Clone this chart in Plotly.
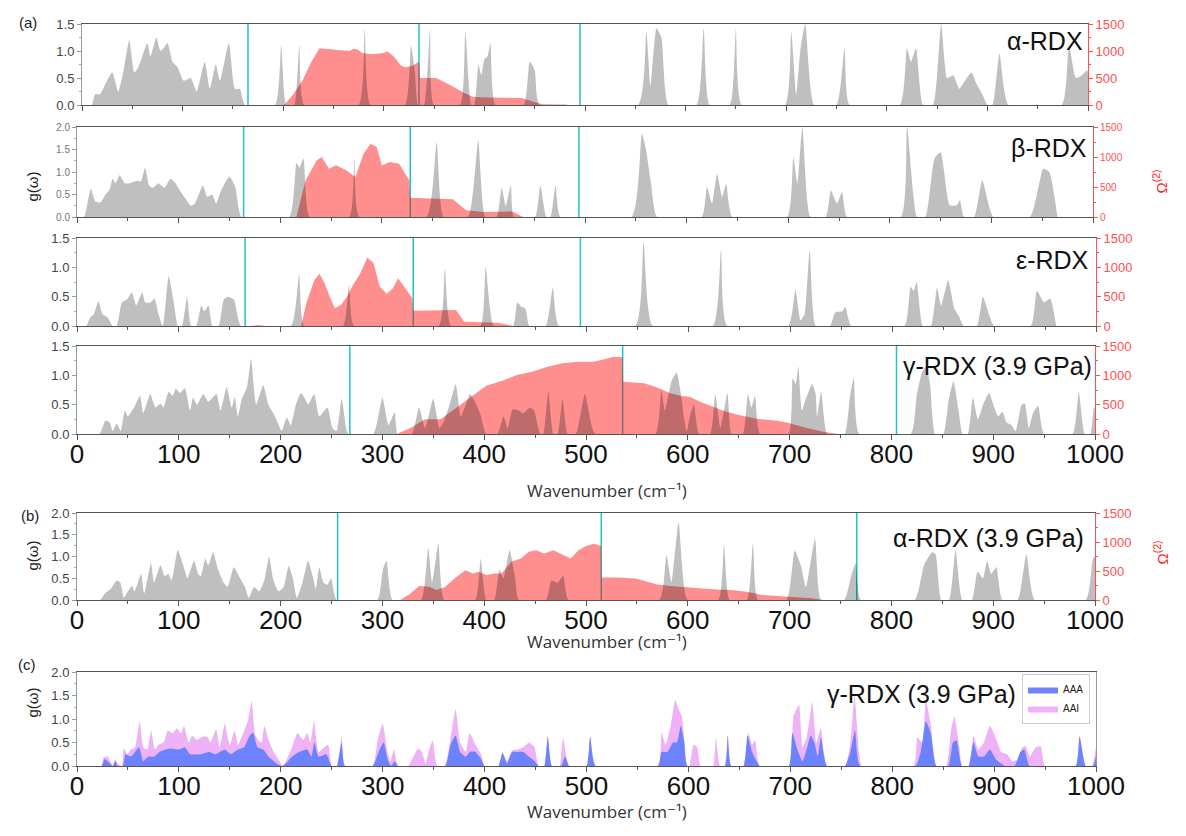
import plotly.graph_objects as go

# ---------------- data (wavenumber cm-1, value) ----------------
ALPHA_G = [[0,0],[9.5,0],[13,0.2],[18,0.2],[21,0.3],[30,0.6],[36,0.25],[41,0.6],[47,1.2],[52,0.6],[56,0.7],[65,1.15],[68,0.9],[74,1.25],[78,1.0],[81,1.05],[85,1.15],[90,0.8],[95,0.7],[101,0.45],[108,0.5],[114,0.25],[122,0.8],[127,0.3],[133,0.75],[137,0.45],[146,1.15],[152,0.3],[157,0.3],[162,0],[192,0],[198,1.1],[203,0],[211,0],[216,1.1],[221,0],[275,0],[281,1.4],[287,0],[321,0],[327,1.1],[331,0.6],[334,0],[340,0],[346,1.4],[350,0],[376,0],[381,1.35],[387,0],[390,0],[394,0.75],[397,0.55],[400,0.85],[403,0.9],[406,1.15],[411,0],[439,0],[445,0.8],[450,0.65],[455,0],[553,0],[561,1.35],[565,0.35],[571,1.42],[576,1.25],[583,0],[611,0],[618,1.42],[624,0],[644,0],[650,1.4],[656,0],[699,0],[705,1.35],[710,0.2],[714,1.0],[719,1.5],[728,0],[750,0],[758,1.05],[763,0],[813,0],[820,1.05],[824,0.8],[829,1.05],[836,0],[846,0],[854,1.5],[860,0.5],[866,0.55],[872,0.3],[876,0.4],[884,0.6],[889,0.4],[895,0.2],[900,0],[905,0],[912,0.95],[921,0],[974,0],[981,1.1],[988,0.5],[994,0.55],[999,0.65],[1000,0.6]]
ALPHA_OM = [[201,0],[210,200],[219,450],[228,800],[236,1050],[253,1020],[260,1020],[266,1000],[270,1040],[274,1030],[279,960],[289,940],[298,960],[304,990],[310,900],[317,730],[321,700],[328,720],[335,800],[336,500],[352,500],[366,370],[379,230],[389,150],[405,140],[437,130],[449,60],[458,15],[481,10],[483,0]]

BETA_G = [[0,0],[7,0],[13.5,0.63],[18,0.35],[23,0.32],[28,0.5],[32,0.6],[35,0.85],[38,0.75],[42,0.93],[47,0.75],[52,0.75],[58,0.8],[63,0.8],[67,1.1],[71,0.7],[75,0.65],[80,0.75],[86,0.65],[92,0.85],[97,0.75],[101,0.6],[107,0.4],[112,0.25],[116,0.3],[124,0.7],[128,0.45],[133,0.5],[137,0.3],[142,0.6],[150,0.9],[156,0.65],[159,0.2],[162,0],[209,0],[216,1.2],[219,1.1],[223,1.3],[229,0],[268,0],[273,1.3],[278,0],[344,0],[354,1.65],[361,0],[385,0],[390,0.6],[395,1.7],[402,0],[413,0],[418,0.65],[422,0.25],[427,0.7],[430,0],[451,0],[456,0.7],[462,0],[466,0],[471,0.7],[476,0],[546,0],[556,1.85],[560,1.5],[565,0.75],[571,0],[615,0],[620,0.67],[625,0.3],[630,0.96],[635,0.45],[639,0.74],[645,0],[699,0],[705,1.33],[709,0.75],[714,2.0],[722,0],[737,0],[742,0.59],[748,0.3],[753,0.55],[758,0],[811,0],[817,2.0],[827,0],[835,0],[844,1.3],[850,1.44],[859,0.26],[866,0.26],[869,0.37],[873,0],[883,0],[891,0.81],[902,0],[938,0],[951,1.07],[957,1.0],[965,0]]
BETA_OM = [[216,0],[225,611],[236,944],[241,1000],[248,806],[255,861],[265,778],[274,667],[282,1055],[289,1222],[295,1167],[300,861],[308,917],[317,889],[327,611],[328,322],[370,294],[383,111],[400,83],[428,94],[439,0]]

EPS_G = [[0,0],[9,0],[13,0.15],[16.5,0.2],[21,0.42],[25,0.2],[30,0.15],[35,0],[39,0],[44,0.4],[49,0.45],[54,0.57],[58,0.35],[64,0.57],[67,0.4],[72,0.4],[76,0.47],[80,0.2],[84,0],[85,0.05],[90,0.85],[95,0.4],[99,0],[103,0],[108,0.5],[112,0],[117,0],[122,0.35],[125,0.25],[129,0.35],[133,0],[139,0],[144,0.45],[148,0.5],[154,0.45],[161,0],[210,0],[218,0.87],[223,0],[261,0],[267,0.7],[272,0],[355,0],[361,0.97],[367,0],[396,0],[401,1.0],[409,0],[428,0],[432,0.4],[436,0.33],[440,0.3],[444,0],[460,0],[467,0.65],[473,0],[548,0],[556,1.43],[565,0],[624,0],[632,1.3],[638,0],[698,0],[705,0.62],[710,0.1],[714,0.2],[719,1.3],[725,0],[739,0],[744,0.23],[751,0.25],[754,0.33],[760,0],[812,0],[818,0.67],[821,0.6],[824,0.75],[830,0],[838,0],[844,0.65],[848,0.35],[855,0.78],[861,0.3],[866,0.15],[870,0],[883,0],[889,0.5],[895,0.2],[900,0],[936,0],[942,0.6],[949,0.4],[955,0.47],[961,0]]
EPS_OM = [[170,0],[178,15],[186,0],[220,0],[225,388],[233,787],[238,890],[243,730],[248,502],[253,302],[259,359],[265,502],[270,673],[278,901],[285,1169],[291,1072],[297,673],[304,548],[310,644],[315,815],[321,673],[329,473],[330,262],[372,274],[380,74],[413,57],[428,0]]

GAMMA_G = [[0,0],[22,0],[28,0.23],[32,0.2],[35,0.05],[39,0.18],[43,0.05],[47,0.4],[50,0.3],[56,0.45],[62,0.65],[65,0.35],[72,0.68],[77,0.45],[82,0.52],[85,0.45],[90,0.72],[94,0.65],[97,0.77],[101,0.7],[106,0.78],[111,0.4],[114,0.62],[118,0.5],[124,0.68],[129,0.55],[137,0.68],[141,0.4],[147,0.8],[152,0.45],[155,0.63],[158,0.3],[162,0.6],[167,0.8],[171,1.28],[176,0.5],[183,0.83],[188,0.5],[193,0.35],[197,0.2],[201,0.05],[206,0.28],[210,0.15],[215,0.5],[220,0.7],[224,0.6],[227,0.5],[233,0.68],[238,0.3],[246,0.45],[251,0.1],[255,0.05],[260,0.6],[265,0.05],[267,0],[291,0],[300,0.62],[306,0.15],[312,0.37],[315,0],[329,0],[336,0.45],[342,0.1],[350,0.6],[356,0.1],[360,0.2],[366,0.5],[372,0.85],[377,0.3],[381,0.45],[386,0.68],[391,0.55],[396,0.35],[402,0],[413,0],[419,0.3],[423,0.1],[428,0.42],[434,0.4],[438,0.35],[445,0.45],[449,0.4],[455,0],[458,0],[463,0.72],[468,0],[472,0],[477,0.6],[482,0],[490,0],[499,0.68],[509,0],[568,0],[574,0.75],[577.5,0.4],[584,0.9],[589,1.05],[594,0.6],[596,0.3],[599,0.05],[602,0.3],[606,0.5],[611,0],[622,0],[627,0.68],[632,0.1],[639,0.7],[643,0],[654,0],[659,0.68],[662.5,0.45],[666,0.65],[671,0],[699,0],[703,0.95],[706,0.85],[708.6,1.15],[712,0.4],[716,0.6],[722,0.85],[725.5,0.7],[727,0.3],[731,0.72],[737,0],[754,0],[759,0.6],[763,0.95],[768.5,0],[819,0],[825,0.68],[830,1.05],[834,1.15],[838,0.85],[843,0],[851,0],[856.5,0.6],[861,0.9],[866,0.4],[870,0],[875,0],[880,0.62],[885,0.25],[890,0.5],[896,0.7],[901,0.45],[905,0.3],[909,0.38],[913,0.2],[918,0.15],[922,0.05],[928,0.5],[931,0.52],[935,0.1],[939,0.35],[944,0.48],[950,0],[978,0],[984,0.72],[990,0],[995.5,0],[999,0.45],[1000,0.45]]
GAMMA_OM = [[314,0],[327,97],[342,250],[357,250],[372,437],[387,636],[402,824],[417,903],[432,1006],[447,1062],[462,1148],[477,1205],[492,1233],[507,1233],[515,1261],[527,1318],[536,1307],[536.5,892],[557,864],[568,807],[583,693],[594,648],[602,636],[612,551],[624,466],[635,398],[650,324],[669,256],[688,227],[698,193],[718,97],[733,40],[748,0]]

ALPHA39_G = [[0,0],[22.6,0],[27.5,0.15],[33,0.25],[39,0.45],[42.5,0.4],[46,0.05],[50,0.2],[54,0.33],[56.5,0.2],[63,0.6],[66,0.15],[72.7,0.85],[75.7,0.4],[82,0.8],[86,0.55],[89.6,0.6],[93,0.45],[99,1.15],[105,0.75],[108.5,0.5],[115,0.9],[119,0.6],[121.7,0.55],[126,0.95],[129,0.8],[133.7,1.1],[138.6,0.7],[144,0.4],[148,0.3],[154,0.75],[159,0.55],[165,0.3],[168.7,0.05],[174,0.3],[179,0.2],[184,0.45],[188.7,1.0],[193,0.45],[198,0.2],[203,0.3],[208,0.78],[212,0.5],[216,0.05],[221.5,0.4],[227,0.9],[232,0.5],[234.6,0.25],[238,0.75],[242,0.4],[246,0.35],[249.7,0.5],[255,0],[295,0],[300.5,0.7],[304,0.9],[310,0],[338,0],[345,1.2],[348.8,0.4],[355,1.3],[360.8,0],[391,0],[396.6,0.95],[402,0],[409.8,0],[415,0.7],[419,0.5],[424.9,1.15],[430.5,0.5],[434,0],[460.6,0],[466,0.45],[472,0.4],[477.6,0.55],[483,0],[572,0],[579,1.03],[584,0.4],[591,1.78],[600,0],[630,0],[635.6,1.27],[641,0],[658,0],[664,1.3],[669,0],[697,0],[705,1.13],[711,0.8],[716,0.3],[725,1.41],[731,0],[753.6,0],[761,0.6],[765,0.85],[770,0],[822.8,0],[832,0.8],[840,1.1],[843.4,1.05],[849,0],[856.6,0],[863,1.15],[869.7,0],[879,0],[884.6,0.65],[890,0.5],[894,0.9],[898,0.6],[903,0.75],[909,0],[924,0],[932.6,1.05],[940.8,0],[991,0],[998,0.95],[1000,1.0]]
ALPHA39_OM = [[317.5,0],[327,103],[336,240],[346,229],[353,172],[361,218],[372,389],[381.5,515],[389,458],[394.7,487],[402,429],[410,458],[417,458],[426.7,658],[436,716],[443.7,830],[451,859],[459,802],[468,859],[477.6,773],[485,716],[492.6,859],[500,930],[508,968],[515,930],[515.5,389],[531,389],[549,372],[561,315],[570,269],[583,240],[598,218],[613,200],[628,183],[643,172],[658,143],[673,86],[688,69],[707,57],[722,29],[733,0]]

# panel (c): cumulative AAA+AAI top, and AAA
GAMMA_TOTAL = [[0,0],[24,0],[26,0.18],[30,0.2],[32.6,0.1],[35,0],[37.5,0.15],[40,0.05],[44,0],[45.8,0.38],[49.5,0.25],[53,0.35],[57,0.4],[61.5,0.95],[65,0.4],[69,0.35],[72.8,0.75],[76.5,0.35],[80,0.45],[85,0.5],[89,0.75],[93.8,0.7],[98,0.8],[102,0.7],[105,0.85],[109.6,0.5],[113,0.65],[117.8,0.55],[122.7,0.62],[128,0.62],[131,0.5],[136.6,0.78],[140,0.4],[145,0.9],[150,0.45],[154.6,0.75],[158,0.45],[164,0.75],[167.7,0.95],[171.5,1.38],[175,0.65],[181,0.5],[184,0.85],[188,0.55],[193,0.3],[197.7,0.15],[201.5,0],[205,0.1],[211,0.4],[216.5,0.7],[222,0.55],[226,0.7],[229,0.5],[232.6,0.95],[237,0.3],[242.8,0.4],[246.5,0.45],[250,0],[255,0],[259.7,0.62],[263,0],[290,0],[295,0.55],[300,0.9],[304.7,0.3],[307.7,0.1],[311,0.35],[315,0],[325,0],[329,0.15],[334.7,0.37],[338.5,0.3],[342,0.05],[345,0.3],[349,0.55],[353.5,0],[361,0],[366.6,0.6],[371.5,1.2],[376,0.5],[381.6,0.3],[385.4,0.7],[391,0.45],[396.6,0.25],[400,0],[413.5,0],[417.6,0.28],[422,0.1],[427,0.33],[432,0.35],[438,0.4],[443.5,0.5],[449,0.4],[453,0],[458.5,0],[462,0.62],[466,0],[473.5,0],[477,0.6],[483,0],[500,0],[503.6,0.62],[509,0],[570,0],[573.8,0.7],[577.5,0.45],[583,0.9],[587,1.4],[590.6,1.2],[593.6,1.05],[599,0],[601,0],[605,0.45],[608.6,0.4],[612,0],[624,0],[627,0.6],[631,0],[635.6,0],[638.6,0.65],[642,0],[654,0],[659,0.7],[662.5,0.45],[665.5,0.55],[670,0],[698.5,0],[703,1.05],[706,1.2],[708.6,1.3],[712,0.4],[716,0.6],[721.7,1.35],[725.5,0.5],[730,0.8],[736,0],[753.6,0],[759,0.5],[763,1.5],[767.4,0.3],[770,0],[821,0],[824.7,0.6],[829.6,0.5],[833,1.4],[837.8,0.9],[843.4,0],[852.8,0],[858,0.8],[861,1.05],[866,0.4],[868.5,0],[875,0],[879.8,0.65],[884.6,0.35],[890,0.5],[896,0.85],[900.7,0.65],[907,0.3],[912.7,0.25],[918,0.1],[924,0.15],[927.7,0.4],[931,0.42],[935,0.2],[940.8,0.4],[945.7,0.42],[950,0],[980,0],[983.9,0.65],[989.9,0],[996,0],[1000,0.4]]
GAMMA_AAA = [[0,0],[24,0],[27,0.15],[32.6,0.05],[35,0],[37.5,0.1],[40,0],[45,0],[47.6,0.25],[53,0.2],[60.8,0.4],[65,0.1],[70,0.2],[75.8,0.2],[81,0.3],[90.8,0.37],[100,0.35],[105.8,0.4],[111,0.25],[120.8,0.25],[130,0.3],[135.8,0.25],[145,0.35],[151,0.25],[158,0.35],[164,0.4],[169.6,0.65],[173,0.7],[177,0.4],[182.7,0.35],[188,0.2],[195.9,0.05],[201.5,0],[205,0.05],[211,0.2],[218,0.3],[226,0.35],[230,0.2],[233,0.5],[237,0.2],[244.6,0.25],[250,0],[255,0],[259.7,0.5],[263,0],[290,0],[297,0.35],[301,0.5],[304.7,0.15],[308,0],[312,0.1],[315,0],[361,0],[366.6,0.45],[371.5,0.65],[376,0.3],[381.6,0.2],[385.4,0.3],[391,0.3],[396.6,0.15],[400,0],[413.5,0],[417.6,0.28],[422,0.05],[427,0.3],[432,0.3],[438,0.3],[443.5,0.2],[449,0.1],[453,0],[458.5,0],[462,0.62],[466,0],[475,0],[479,0.2],[483,0],[500,0],[503.6,0.62],[509,0],[570,0],[573.8,0.3],[579.4,0.3],[585,0.5],[588.8,0.5],[592.5,0.85],[596,0.5],[599,0],[635.6,0],[638.6,0.65],[642,0],[654,0],[658,0.65],[662.5,0.3],[667,0.1],[670,0],[698.5,0],[702,0.7],[707,0.35],[712,0.1],[716,0.35],[720,0.65],[723.6,0.5],[727,0.2],[730,0.6],[736,0],[753.6,0],[759,0.3],[763.6,0.75],[768.5,0],[822.8,0],[828.5,0.35],[833,0.95],[837.8,0.7],[843.4,0],[855,0],[859.6,0.5],[863,0.55],[868.5,0],[875,0],[879.8,0.5],[884.6,0.2],[890,0.2],[896,0.35],[901.5,0.15],[907,0.05],[910.8,0],[920,0],[925.8,0.3],[929.6,0.35],[935,0],[980,0],[983.9,0.62],[989.9,0],[997,0],[1000,0.2]]

# vertical cyan marker lines (cm-1)
VLINES = {
    "alpha": [165, 335, 495],
    "beta": [164, 328, 494],
    "eps": [165, 330, 494],
    "gamma": [268, 536, 805],
    "alpha39": [256, 515, 766],
}
PHASE_LABELS = ["α-RDX", "β-RDX", "ε-RDX", "γ-RDX (3.9 GPa)", "α-RDX (3.9 GPa)", "γ-RDX (3.9 GPa)"]
OM_TICKS = [0, 500, 1000, 1500]

# ---------------- layout geometry (pixels of a 1186x836 canvas) ----------------
W, H = 1186, 836
def px(x): return x / W
def py(y): return 1 - y / H
def aid(prefix, n): return prefix if n == 1 else f"{prefix}{n}"

panels = [
    dict(key="alpha", g=ALPHA_G, om=ALPHA_OM, xr=(82, 1088), yr=(24, 105), gmax=1.5, small=False, xl=False, lab=(1085, 41)),
    dict(key="beta", g=BETA_G, om=BETA_OM, xr=(77, 1093), yr=(127, 217), gmax=2.0, small=True, xl=False, lab=(1089, 148)),
    dict(key="eps", g=EPS_G, om=EPS_OM, xr=(77, 1096), yr=(238, 326), gmax=1.5, small=False, xl=False, lab=(1091, 260)),
    dict(key="gamma", g=GAMMA_G, om=GAMMA_OM, xr=(77, 1095), yr=(346, 434), gmax=1.5, small=False, xl=True, lab=(1094, 366)),
    dict(key="alpha39", g=ALPHA39_G, om=ALPHA39_OM, xr=(77, 1095), yr=(513, 600), gmax=2.0, small=False, xl=True, lab=(1086, 538)),
]

GRAY = "rgba(0,0,0,0.25)"
RED = "rgba(255,0,0,0.44)"
RED_AX = "#ff5050"
CYAN = "#1fc3c8"
AX = "#555555"
SMOOTH = dict(shape="spline", smoothing=0.5)
LABEL_FONT = dict(size=25, color="#111")

fig = go.Figure()
layout = dict(width=W, height=H, margin=dict(l=0, r=0, t=0, b=0, autoexpand=False),
              paper_bgcolor="white", plot_bgcolor="white", showlegend=True,
              font=dict(family="Liberation Sans, Arial, sans-serif"))
shapes, annotations = [], []

def xaxis_def(p, anchor):
    return dict(domain=[px(p["xr"][0]), px(p["xr"][1])], range=[0, 1000], anchor=anchor,
                showline=True, linecolor=AX, linewidth=1.2, mirror=True,
                ticks="outside", ticklen=5, tickcolor=AX, tick0=0, dtick=100,
                minor=dict(ticks="outside", ticklen=3, tickcolor=AX, dtick=50),
                showticklabels=p["xl"], tickfont=dict(size=26, color="#111"), ticklabelstandoff=-8,
                showgrid=False, zeroline=False, automargin=False)

for i, p in enumerate(panels, start=1):
    xid, yom, yg = aid("x", i), aid("y", i), aid("y", i + 6)
    dom_y = [py(p["yr"][1]), py(p["yr"][0])]
    fs = 10 if p["small"] else 13
    layout[f"xaxis{i}"] = xaxis_def(p, yom)
    layout[f"yaxis{i}"] = dict(domain=dom_y, range=[0, 1500], anchor=xid, side="right",
                               showline=True, linecolor=RED_AX, linewidth=1,
                               ticks="outside", ticklen=4, tickcolor=RED_AX,
                               tickvals=OM_TICKS, minor=dict(ticks="outside", ticklen=2, tickcolor=RED_AX, dtick=250),
                               tickfont=dict(size=fs, color=RED_AX), showgrid=False, zeroline=False, automargin=False)
    layout[f"yaxis{i+6}"] = dict(range=[0, p["gmax"]], anchor=xid, overlaying=yom, side="left",
                                 showline=True, linecolor="#999", linewidth=1,
                                 ticks="outside", ticklen=4, tickcolor="#999", dtick=0.5, tickformat=".1f",
                                 minor=dict(ticks="outside", ticklen=2, tickcolor="#aaa", dtick=0.25),
                                 tickfont=dict(size=fs, color="#777" if p["small"] else "#444"),
                                 showgrid=False, zeroline=False, automargin=False)
    ox, oy = zip(*p["om"])
    fig.add_trace(go.Scatter(x=ox, y=oy, xaxis=xid, yaxis=yom, mode="lines", fill="tozeroy",
                             fillcolor=RED, line=dict(width=0, color=RED), showlegend=False, hoverinfo="skip"))
    gx, gy = zip(*p["g"])
    fig.add_trace(go.Scatter(x=gx, y=gy, xaxis=xid, yaxis=yg, mode="lines", fill="tozeroy",
                             fillcolor=GRAY, line=dict(width=0, color=GRAY, **SMOOTH), showlegend=False, hoverinfo="skip"))
    for v in VLINES[p["key"]]:
        shapes.append(dict(type="line", xref=xid, yref=f"{yom} domain", x0=v, x1=v, y0=0, y1=1,
                           line=dict(color=CYAN, width=1.5), layer="below"))
    annotations.append(dict(text=PHASE_LABELS[i-1], xref="paper", yref="paper",
                            x=px(p["lab"][0]), y=py(p["lab"][1]), xanchor="right", yanchor="middle",
                            showarrow=False, font=LABEL_FONT))

# panel (c)
pc = dict(xr=(77, 1096), yr=(672, 766), xl=True)
layout["xaxis6"] = xaxis_def(pc, "y6")
layout["yaxis6"] = dict(domain=[py(pc["yr"][1]), py(pc["yr"][0])], range=[0, 2.0], anchor="x6",
                        showline=True, linecolor="#999", linewidth=1, mirror=True,
                        ticks="outside", ticklen=4, tickcolor="#999", dtick=0.5, tickformat=".1f",
                        minor=dict(ticks="outside", ticklen=2, tickcolor="#aaa", dtick=0.25),
                        tickfont=dict(size=13, color="#444"), showgrid=False, zeroline=False, automargin=False)
tx, ty = zip(*GAMMA_TOTAL)
ax_, ay_ = zip(*GAMMA_AAA)
fig.add_trace(go.Scatter(x=tx, y=ty, xaxis="x6", yaxis="y6", mode="lines", fill="tozeroy", name="AAI",
                         fillcolor="rgb(238,178,246)", line=dict(width=0, color="rgb(238,178,246)", **SMOOTH), hoverinfo="skip"))
fig.add_trace(go.Scatter(x=ax_, y=ay_, xaxis="x6", yaxis="y6", mode="lines", fill="tozeroy", name="AAA",
                         fillcolor="rgb(108,130,255)", line=dict(width=0, color="rgb(108,130,255)", **SMOOTH), hoverinfo="skip"))
annotations.append(dict(text=PHASE_LABELS[5], xref="paper", yref="paper", x=px(1018), y=py(694),
                        xanchor="right", yanchor="middle", showarrow=False, font=LABEL_FONT))

layout["legend"] = dict(x=px(1022), y=py(674), xanchor="left", yanchor="top", traceorder="reversed",
                        bgcolor="white", bordercolor="#cccccc", borderwidth=1,
                        font=dict(size=10, color="#222"), itemwidth=30, tracegroupgap=0)

wn_title = "Wavenumber (cm⁻¹)"
for yy in (490, 655, 825):
    annotations.append(dict(text=wn_title, xref="paper", yref="paper", x=px(607), y=py(yy),
                            showarrow=False, font=dict(size=17, color="#333", family="Open Sans, DejaVu Sans, sans-serif")))
for yy in (170, 556, 720):
    annotations.append(dict(text="g(ω)", xref="paper", yref="paper", x=px(21), y=py(yy), textangle=-90,
                            showarrow=False, font=dict(size=15, color="#222")))
for yy in (168, 553):
    annotations.append(dict(text="Ω<sup>(2)</sup>", xref="paper", yref="paper", x=px(1172), y=py(yy), textangle=-90,
                            showarrow=False, font=dict(size=15, color="#ff2020")))
for lab, xx, yy in (("(a)", 17, 12), ("(b)", 19, 515), ("(c)", 16, 675)):
    annotations.append(dict(text=lab, xref="paper", yref="paper", x=px(xx), y=py(yy),
                            showarrow=False, font=dict(size=15, color="#222")))

layout["shapes"] = shapes
layout["annotations"] = annotations
fig.update_layout(**layout)

fig.write_html("out.html", include_plotlyjs=True, config={"displayModeBar": False},
               post_script="document.body.style.margin='0px';")
